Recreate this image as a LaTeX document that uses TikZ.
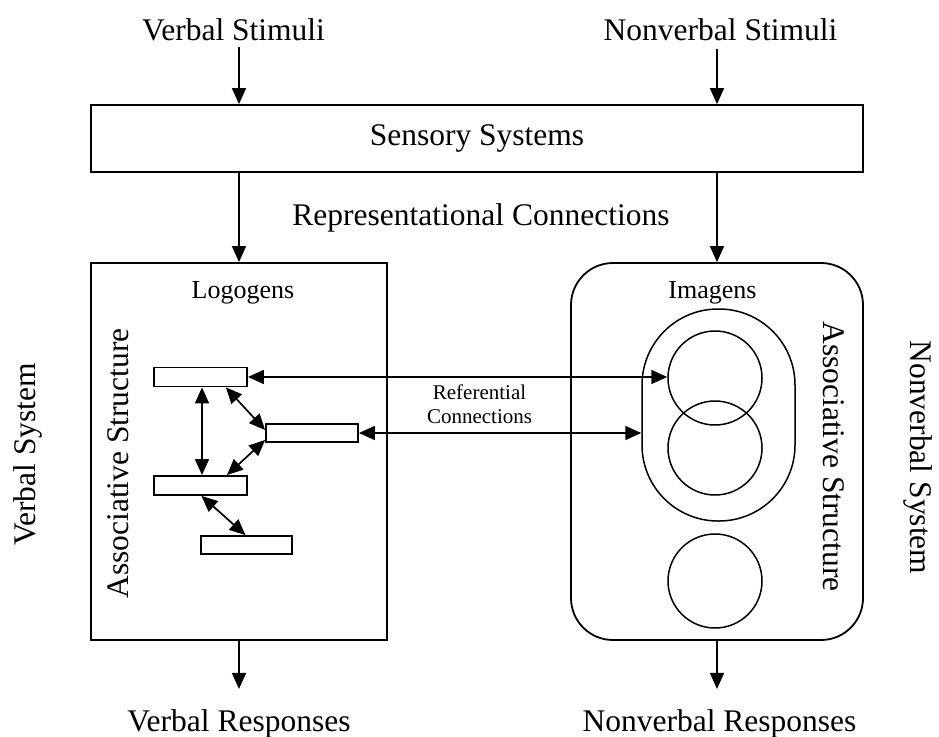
\documentclass[tikz,border=0pt]{standalone}
\usepackage{fontspec}
\setmainfont{Liberation Serif}
\usetikzlibrary{arrows.meta}
\begin{document}
\begin{tikzpicture}[x=1pt,y=-1pt,
  big/.style={font=\fontsize{31.5}{37}\selectfont, inner sep=0},
  mid/.style={font=\fontsize{26}{30}\selectfont, inner sep=0},
  small/.style={font=\fontsize{21}{24}\selectfont, inner sep=0, align=center},
  frame/.style={draw, line width=1.8pt, inner sep=0},
  tip/.tip={Triangle[length=16pt,width=14pt]},
  arr/.style={line width=1.7pt, -tip},
  darr/.style={line width=1.7pt, tip-tip},
  cell/.style={draw, line width=1.8pt, inner sep=0, minimum height=19pt},
  img/.style={draw, circle, line width=1.5pt, inner sep=0, minimum size=94pt}]

\useasboundingbox (0,0) rectangle (939,736);

% inputs and sensory stage
\node[big, anchor=base] (vstim) at (233.5,40) {Verbal Stimuli};
\node[big, anchor=base] (nstim) at (720.5,40) {Nonverbal Stimuli};
\node[frame, big, minimum width=772pt, minimum height=67pt] (sens) at (477,138.5) {Sensory Systems};
\node[big, anchor=base] (repr) at (481,225) {Representational Connections};

% the two systems
\node[frame, minimum width=296pt, minimum height=377pt] (lbox) at (239,451.5) {};
\node[frame, rounded corners=42pt, minimum width=292pt, minimum height=377pt] (rbox) at (717,451.5) {};
\node[mid, anchor=base] (logo) at (243,298) {Logogens};
\node[mid, anchor=base] (imag) at (712.5,298) {Imagens};

% logogen cells
\node[cell, minimum width=93pt] (b1) at (200.5,377) {};
\node[cell, minimum width=92pt, minimum height=18pt] (b2) at (312,433) {};
\node[cell, minimum width=93pt] (b3) at (200.5,485.5) {};
\node[cell, minimum width=91pt, minimum height=18pt] (b4) at (246.5,545) {};

% imagens
\node[draw, line width=1.5pt, inner sep=0, rounded corners=76pt,
      minimum width=153pt, minimum height=212pt] (stad) at (718.5,415) {};
\node[img] (c1) at (715,378) {};
\node[img] (c2) at (715,448) {};
\node[img] (c3) at (715,581) {};

% side labels
\node[big, anchor=base, rotate=90] (lassoc) at (128,463.5) {Associative Structure};
\node[big, anchor=base, rotate=90] (vsys) at (35,454.5) {Verbal System};
\node[big, anchor=base, rotate=-90] (rassoc) at (823,456.5) {Associative Structure};
\node[big, anchor=base, rotate=-90] (nsys) at (910,457.5) {Nonverbal System};

\node[small] (refc) at (479.5,404) {Referential\\Connections};

% outputs
\node[big, anchor=base] (vresp) at (239,731) {Verbal Responses};
\node[big, anchor=base] (nresp) at (719.5,731) {Nonverbal Responses};

% arrow end points below the stimulus labels and above the responses
\coordinate (vin) at ([shift={(0,6)}]vstim.south -| lbox.north);
\coordinate (nin) at ([shift={(0,8)}]nstim.south -| rbox.north);
\coordinate (vout) at ([shift={(0,-20)}]vresp.north -| lbox.south);
\coordinate (nout) at ([shift={(0,-20)}]nresp.north -| rbox.south);

\draw[arr] (vin) -- (vin |- sens.north);
\draw[arr] (nin) -- (nin |- sens.north);
\draw[arr] (sens.south -| lbox.north) -- (lbox.north);
\draw[arr] (sens.south -| rbox.north) -- (rbox.north);
\draw[arr] (lbox.south) -- (vout);
\draw[arr] (rbox.south) -- (nout);

% associative links between logogens
\draw[darr] ([shift={(1.5,0)}]b1.south) -- ([shift={(1.5,0)}]b3.north);
\draw[darr] ([shift={(-22,0)}]b1.south east) -- ([shift={(0,-3)}]b2.west);
\draw[darr] ([shift={(0,7)}]b2.west) -- ([shift={(-21,0)}]b3.north east);
\draw[darr] ([shift={(1,0)}]b3.south) -- ([shift={(-1,0)}]b4.north);

% referential links
\draw[darr] (b1.east) -- (b1.east -| c1.west);
\draw[darr] (b2.east) -- (b2.east -| stad.west);
\end{tikzpicture}
\end{document}
